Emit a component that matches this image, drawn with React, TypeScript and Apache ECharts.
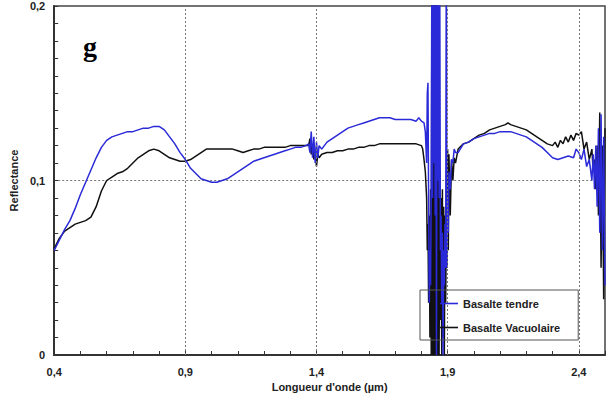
import React, { useEffect, useRef } from "react";
import * as echarts from "echarts";

const seriesNames = ["Basalte tendre", "Basalte Vacuolaire"];
const xLabelValues = [0.4, 0.9, 1.4, 1.9, 2.4];
const xGridValues = [0.9, 1.4, 1.9, 2.4];

const basalteTendre: number[][] = [
  [0.40,0.060],[0.42,0.066],[0.44,0.072],[0.46,0.077],[0.48,0.084],[0.50,0.092],[0.52,0.099],[0.54,0.106],
  [0.56,0.113],[0.58,0.119],[0.60,0.123],[0.62,0.125],[0.64,0.126],[0.66,0.127],[0.68,0.128],[0.70,0.128],
  [0.72,0.129],[0.74,0.130],[0.76,0.130],[0.78,0.131],[0.80,0.131],[0.82,0.129],[0.84,0.125],[0.86,0.121],
  [0.88,0.116],[0.90,0.112],[0.92,0.107],[0.94,0.104],[0.96,0.101],[0.98,0.100],[1.00,0.099],[1.02,0.099],
  [1.04,0.100],[1.06,0.101],[1.08,0.103],[1.10,0.105],[1.12,0.107],[1.14,0.109],[1.16,0.111],[1.18,0.112],
  [1.20,0.113],[1.22,0.114],[1.24,0.115],[1.26,0.116],[1.28,0.117],[1.30,0.118],[1.32,0.119],[1.34,0.119],
  [1.36,0.120],[1.37,0.121],[1.375,0.116],[1.38,0.128],[1.385,0.113],[1.39,0.125],[1.395,0.110],[1.40,0.122],
  [1.405,0.113],[1.41,0.120],[1.42,0.118],[1.44,0.122],[1.46,0.124],[1.48,0.126],[1.50,0.128],[1.52,0.130],
  [1.54,0.131],[1.56,0.132],[1.58,0.133],[1.60,0.134],[1.62,0.135],[1.64,0.136],[1.66,0.136],[1.68,0.136],
  [1.70,0.135],[1.72,0.135],[1.74,0.135],[1.76,0.135],[1.78,0.134],[1.79,0.136],[1.80,0.134],[1.81,0.133],
  [1.815,0.128],[1.82,0.110],[1.8225,0.150],[1.825,0.156],[1.8275,0.090],[1.83,0.030],[1.8325,0.060],[1.835,0.040],
  [1.8375,0.100],[1.84,0.230],[1.8425,0.090],[1.845,0.240],[1.8475,0.110],[1.85,0.230],[1.8525,0.080],[1.855,0.240],
  [1.8575,0.000],[1.86,0.235],[1.8625,0.100],[1.865,0.230],[1.8675,0.090],[1.87,0.220],[1.8725,0.060],[1.875,0.080],
  [1.8775,0.030],[1.88,0.070],[1.8825,0.000],[1.885,0.060],[1.8875,0.040],[1.89,0.075],[1.8925,0.050],[1.895,0.240],
  [1.8975,0.050],[1.90,0.090],[1.9025,0.070],[1.905,0.105],[1.91,0.095],[1.915,0.112],[1.92,0.110],[1.925,0.118],
  [1.93,0.116],[1.94,0.116],[1.96,0.121],
  [1.98,0.122],[2.00,0.124],[2.02,0.125],[2.04,0.126],[2.06,0.127],[2.08,0.127],[2.10,0.128],[2.12,0.128],
  [2.14,0.128],[2.16,0.127],[2.18,0.126],[2.20,0.125],[2.22,0.123],[2.24,0.121],[2.26,0.119],[2.28,0.116],
  [2.30,0.113],[2.32,0.112],[2.34,0.113],[2.36,0.114],[2.38,0.113],[2.39,0.118],[2.40,0.116],[2.41,0.112],
  [2.42,0.118],[2.43,0.108],[2.44,0.112],[2.45,0.100],[2.455,0.115],[2.46,0.095],[2.465,0.120],[2.47,0.085],
  [2.475,0.130],[2.48,0.070],[2.485,0.138],[2.49,0.060],[2.495,0.125],[2.50,0.040]
];

const basalteVacuolaire: number[][] = [
  [0.40,0.061],[0.42,0.067],[0.44,0.071],[0.46,0.073],[0.48,0.075],[0.50,0.076],[0.52,0.077],[0.54,0.079],
  [0.56,0.085],[0.58,0.094],[0.60,0.100],[0.62,0.102],[0.64,0.104],[0.66,0.105],[0.68,0.107],[0.70,0.110],
  [0.72,0.113],[0.74,0.115],[0.76,0.117],[0.78,0.118],[0.80,0.117],[0.82,0.115],[0.84,0.113],[0.86,0.112],
  [0.88,0.111],[0.90,0.111],[0.92,0.112],[0.94,0.114],[0.96,0.116],[0.98,0.118],[1.00,0.118],[1.02,0.118],
  [1.04,0.118],[1.06,0.118],[1.08,0.118],[1.10,0.117],[1.12,0.116],[1.14,0.117],[1.16,0.118],[1.18,0.118],
  [1.20,0.119],[1.22,0.119],[1.24,0.119],[1.26,0.119],[1.28,0.119],[1.30,0.120],[1.32,0.120],[1.34,0.120],
  [1.36,0.120],[1.37,0.120],[1.375,0.124],[1.38,0.115],[1.385,0.121],[1.39,0.112],[1.395,0.118],[1.40,0.108],
  [1.405,0.115],[1.41,0.113],[1.42,0.115],[1.44,0.116],[1.46,0.116],[1.48,0.117],[1.50,0.117],[1.52,0.118],
  [1.54,0.118],[1.56,0.119],[1.58,0.119],[1.60,0.120],[1.62,0.120],[1.64,0.121],[1.66,0.121],[1.68,0.121],
  [1.70,0.121],[1.72,0.121],[1.74,0.121],[1.76,0.121],[1.78,0.121],[1.80,0.120],[1.805,0.118],[1.81,0.112],
  [1.815,0.105],[1.82,0.090],[1.8225,0.060],[1.825,0.075],[1.8275,0.030],[1.83,0.080],[1.8325,0.010],[1.835,0.095],
  [1.8375,0.000],[1.84,0.220],[1.8425,0.000],[1.845,0.220],[1.8475,0.000],[1.85,0.220],[1.8525,0.000],[1.855,0.220],
  [1.8575,0.000],[1.86,0.210],[1.8625,0.000],[1.865,0.100],[1.8675,0.000],[1.87,0.095],[1.8725,0.020],[1.875,0.090],
  [1.8775,0.000],[1.88,0.095],[1.8825,0.010],[1.885,0.085],[1.8875,0.000],[1.89,0.080],[1.8925,0.030],[1.895,0.070],
  [1.8975,0.050],[1.90,0.118],[1.9025,0.060],[1.905,0.115],[1.91,0.080],[1.915,0.112],[1.92,0.100],[1.925,0.113],
  [1.93,0.110],[1.94,0.118],[1.96,0.121],
  [1.98,0.122],[2.00,0.124],[2.02,0.126],[2.04,0.127],[2.06,0.129],[2.08,0.130],[2.10,0.131],[2.12,0.132],
  [2.13,0.133],[2.14,0.132],[2.16,0.131],[2.18,0.130],[2.20,0.129],[2.22,0.127],[2.24,0.125],[2.26,0.123],
  [2.28,0.121],[2.30,0.120],[2.31,0.122],[2.32,0.119],[2.33,0.123],[2.34,0.121],[2.35,0.125],[2.36,0.122],
  [2.37,0.126],[2.38,0.123],[2.39,0.127],[2.40,0.126],[2.41,0.128],[2.42,0.118],[2.43,0.122],[2.44,0.112],
  [2.45,0.118],[2.455,0.105],[2.46,0.112],[2.465,0.095],[2.47,0.120],[2.475,0.080],[2.48,0.139],[2.485,0.050],
  [2.49,0.120],[2.495,0.032],[2.50,0.130]
];

const fmt = (v: number) => (v === 0 ? "0" : v.toFixed(1).replace(".", ","));

const BLUE = "#2a2ad8";
const BLACK = "#111";

export default function App() {
  const ref = useRef<HTMLDivElement>(null);
  useEffect(() => {
    document.body.style.margin = "0";
    const chart = echarts.init(ref.current!, null, { renderer: "svg" });
    const font = "Liberation Sans";
    chart.setOption({
      animation: false,
      backgroundColor: "#fff",
      grid: {
        left: 49, top: 6, right: 0, bottom: 47,
        show: true, borderColor: "#444", borderWidth: 1.5,
      },
      legend: {
        data: seriesNames.map((n) => ({ name: n, icon: "rect" })),
        orient: "vertical",
        left: 420, top: 290,
        padding: [8, 18, 7, 20],
        itemWidth: 18, itemHeight: 1.6, itemGap: 13,
        borderColor: "#555", borderWidth: 1,
        textStyle: { fontFamily: font, fontSize: 11, fontWeight: "bold", color: "#222" },
      },
      graphic: [
        {
          type: "text", left: 83, top: 32,
          style: { text: "g", font: "bold 28px 'Liberation Serif'", fill: "#000" },
        },
      ],
      xAxis: {
        type: "value", min: 0.4, max: 2.5, interval: 0.1,
        name: "Longueur d'onde (µm)", nameLocation: "middle", nameGap: 23,
        nameTextStyle: { fontFamily: font, fontSize: 11, fontWeight: "bold", color: "#222" },
        axisLine: { lineStyle: { color: "#333", width: 2 } },
        axisTick: { inside: true, length: 4, lineStyle: { color: "#333" } },
        axisLabel: {
          margin: 11, fontFamily: font, fontSize: 11, fontWeight: "bold", color: "#222",
          formatter: (v: number) => (xLabelValues.some((l) => Math.abs(l - v) < 1e-6) ? fmt(v) : ""),
        },
        splitLine: { show: false },
      },
      yAxis: {
        type: "value", min: 0, max: 0.2, interval: 0.1,
        name: "Reflectance", nameLocation: "middle", nameRotate: 90, nameGap: 33,
        nameTextStyle: { fontFamily: font, fontSize: 11, fontWeight: "bold", color: "#222" },
        axisLine: { lineStyle: { color: "#333", width: 2 } },
        axisTick: { inside: true, length: 4, lineStyle: { color: "#333" } },
        minorTick: { show: true, splitNumber: 10, length: 4, lineStyle: { color: "#333" } },
        axisLabel: { margin: 9, fontFamily: font, fontSize: 11, fontWeight: "bold", color: "#222", formatter: fmt },
        splitLine: { show: true, lineStyle: { color: "#777", type: [2, 2], width: 1 } },
      },
      series: [
        {
          name: seriesNames[1], type: "line", data: basalteVacuolaire,
          symbol: "none", lineStyle: { color: BLACK, width: 1.5 }, itemStyle: { color: BLACK },
          markLine: {
            silent: true, symbol: "none", label: { show: false },
            lineStyle: { color: "#777", type: [2, 2], width: 1 },
            data: xGridValues.map((x) => ({ xAxis: x })),
          },
        },
        {
          name: seriesNames[0], type: "line", data: basalteTendre,
          symbol: "none", lineStyle: { color: BLUE, width: 1.5 }, itemStyle: { color: BLUE },
        },
      ],
    });
    return () => chart.dispose();
  }, []);
  return <div ref={ref} style={{ width: 608, height: 402 }} />;
}
